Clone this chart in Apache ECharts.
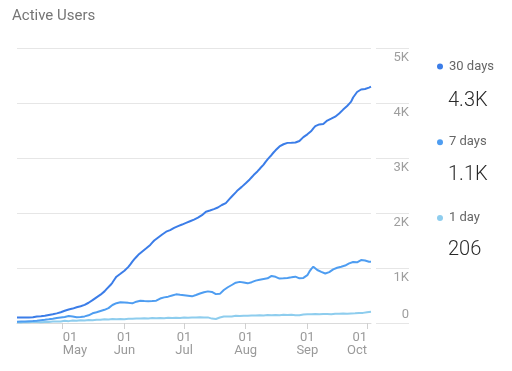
<!DOCTYPE html>
<html><head><meta charset="utf-8">
<script src="https://cdn.jsdelivr.net/npm/echarts@6/dist/echarts.min.js"></script>
<style>html,body{margin:0;padding:0;background:#fff}#c{width:512px;height:371px}</style>
</head><body><div id="c"></div>
<script>
const chartTitle = 'Active Users';
const seriesNames = ['30 days', '7 days', '1 day'];
const currentValues = ['4.3K', '1.1K', '206'];
const seriesColors = ['#3b7de8', '#4e9df1', '#8ecdee'];
const startDateUTC = [2019, 3, 8];
const dayCount = 179;
const monthNames = ['Jan','Feb','Mar','Apr','May','Jun','Jul','Aug','Sep','Oct','Nov','Dec'];
const yMin = 0, yMax = 5000, yStep = 1000;

const users30 = [
  100,100,100,100,100,101,102,102,105,
  118,120,121,122,125,130,138,145,
  150,158,165,175,185,196,
  210,222,236,
  245,252,262,275,285,296,
  305,315,330,345,
  368,390,415,440,467,
  490,515,540,
  575,615,650,690,
  735,790,842,
  870,895,920,950,976,
  1020,1065,1115,
  1160,1200,1240,1275,
  1300,1330,1358,
  1390,1420,1460,1500,1527,
  1555,1585,1610,1635,1660,
  1675,1690,1710,1730,1750,
  1762,1775,1790,1805,1820,
  1835,1850,1865,1880,1900,1915,1933,
  1960,1995,2024,
  2035,2045,2055,2070,2085,
  2100,2120,2145,
  2160,2180,2215,2260,
  2300,2335,2375,2415,
  2445,2475,2505,2540,
  2575,2610,2650,2690,2720,
  2760,2800,2842,2880,
  2930,2975,3015,3055,
  3100,3140,3175,
  3210,3235,3250,
  3265,3275,3280,3278,3280,3282,3285,
  3310,3345,3380,3400,
  3430,3460,3491,
  3540,3580,3605,
  3610,3615,3618,
  3650,3680,3695,
  3715,3735,3751,
  3780,3810,3842,
  3880,3915,3945,
  3985,4024,
  4100,4150,4200,
  4235,4245,4250,
  4255,4265,4280,4297
];

const users7 = [
  24,25,26,27,28,30,32,34,36,
  38,42,46,50,54,58,62,67,
  72,78,84,90,96,100,
  103,110,120,127,
  124,118,112,106,103,
  108,114,120,127,
  140,158,176,
  186,196,206,
  218,230,240,248,
  270,300,327,
  345,360,376,
  378,374,372,370,
  366,362,358,
  372,388,400,406,
  402,398,394,
  396,398,400,402,406,
  425,445,461,
  466,472,479,488,
  500,512,521,
  516,512,509,
  505,500,495,490,485,
  497,510,522,537,551,
  560,568,575,582,
  565,545,525,509,
  530,560,600,
  625,650,672,691,
  712,732,751,
  748,742,735,728,721,
  730,742,755,770,782,
  788,794,800,806,812,
  835,855,861,
  840,812,
  808,810,812,815,
  820,825,830,836,842,
  828,812,
  815,820,824,
  870,933,
  985,1024,
  1000,964,
  945,930,921,
  900,891,
  925,945,
  975,994,
  1005,1015,1024,
  1035,1045,1055,
  1085,1115,
  1110,1105,1103,
  1125,1145,1158,
  1135,1118,1115,1112
];

const users1 = [
  12,15,10,18,20,14,12,18,22,16,
  18,22,15,14,20,24,18,16,26,22,
  28,32,26,24,40,42,34,30,44,46,
  40,36,48,52,46,40,55,58,50,46,
  60,66,58,54,68,72,64,60,74,76,
  70,66,72,78,70,64,76,84,76,70,
  82,88,80,74,86,92,84,78,90,95,
  88,82,92,96,88,82,94,98,90,84,
  96,100,92,86,98,104,96,90,102,106,
  98,92,104,108,100,94,102,96,80,68,
  72,88,100,110,118,112,120,127,118,122,
  130,136,128,122,134,140,132,126,138,142,
  136,130,140,146,138,132,144,148,140,136,
  146,150,142,136,148,152,144,138,150,146,
  140,134,142,150,156,148,160,166,158,152,
  162,168,160,154,164,170,162,156,158,166,
  170,176,168,160,172,178,170,164,174,180,
  176,170,182,190,184,178,196,202,206
];

const categories = [];
const t0 = Date.UTC(startDateUTC[0], startDateUTC[1], startDateUTC[2]);
for (let i = 0; i < dayCount; i++) {
  categories.push(new Date(t0 + i * 86400000).toISOString().slice(0, 10));
}
const isMonthStart = (v) => v.endsWith('-01');
const monthStarts = categories.filter(isMonthStart);
const xData = categories.map(c => {
  const item = { value: c };
  if (c === monthStarts[0]) item.textStyle = { align: 'left' };
  if (c === monthStarts[monthStarts.length - 1]) item.textStyle = { align: 'right' };
  return item;
});

const FONT = 'Roboto';
const gridColor = '#e6e6e6';
const seriesData = [users30, users7, users1];

const chart = echarts.init(document.getElementById('c'), null, { renderer: 'canvas' });
chart.setOption({
  animation: false,
  textStyle: { fontFamily: FONT },
  title: [
    { text: chartTitle, left: 12, top: 9, padding: 0,
      textStyle: { fontSize: 15, fontWeight: 'normal', color: '#757575', fontFamily: FONT } }
  ].concat(currentValues.map((v, i) => ({
    text: v, left: 448, top: 90.5 + i * 74.6, padding: 0,
    textStyle: { fontSize: 20, fontWeight: 300, color: '#2a2a2a', fontFamily: FONT }
  }))),
  legend: {
    orient: 'vertical', left: 437, top: 60, padding: 0,
    itemWidth: 6, itemHeight: 6, icon: 'circle', itemGap: 62.7,
    selectedMode: false,
    textStyle: { fontSize: 13, color: '#666', fontFamily: FONT, padding: [0, 0, 0, 1] },
    data: seriesNames
  },
  grid: [
    { left: 17, right: 141, top: 48, bottom: 48 },
    { left: 376, right: 103, top: 48, bottom: 48 }
  ],
  xAxis: [
    {
      type: 'category', gridIndex: 0, data: xData, boundaryGap: false,
      axisLine: { show: true, lineStyle: { color: '#dadada', width: 1 } },
      axisTick: { show: true, interval: (i, v) => isMonthStart(v), length: 6, lineStyle: { color: '#d0d0d0' } },
      axisLabel: {
        interval: (i, v) => isMonthStart(v), margin: 8, fontSize: 13, lineHeight: 13,
        color: '#9a9a9a', fontFamily: FONT,
        formatter: (v) => { const p = v.split('-'); return p[2] + '\n' + monthNames[+p[1] - 1]; }
      },
      splitLine: { show: false }
    },
    { type: 'value', gridIndex: 1, show: false, min: 0, max: 1 }
  ],
  yAxis: [
    {
      type: 'value', gridIndex: 0, min: yMin, max: yMax, interval: yStep,
      axisLine: { show: false }, axisTick: { show: false }, axisLabel: { show: false },
      splitLine: { lineStyle: { color: gridColor, width: 1 } }
    },
    {
      type: 'value', gridIndex: 1, min: yMin, max: yMax, interval: yStep, position: 'right',
      axisLine: { show: false }, axisTick: { show: false },
      axisLabel: {
        inside: true, margin: 0, fontSize: 13, color: '#9e9e9e', fontFamily: FONT,
        formatter: (v) => v === 0 ? '{b|0}' : '{t|' + (v / 1000) + 'K}',
        rich: {
          t: { padding: [19, 0, 0, 0], fontSize: 13, color: '#9e9e9e', fontFamily: FONT },
          b: { padding: [0, 0, 17, 0], fontSize: 13, color: '#9e9e9e', fontFamily: FONT }
        }
      },
      splitLine: { lineStyle: { color: gridColor, width: 1 } }
    }
  ],
  series: seriesNames.map((name, i) => ({
    name, type: 'line', xAxisIndex: 0, yAxisIndex: 0,
    data: seriesData[i], showSymbol: false, symbol: 'circle',
    color: seriesColors[i],
    lineStyle: { width: 2, color: seriesColors[i] },
    z: 10 - i
  }))
});
</script>
</body></html>
